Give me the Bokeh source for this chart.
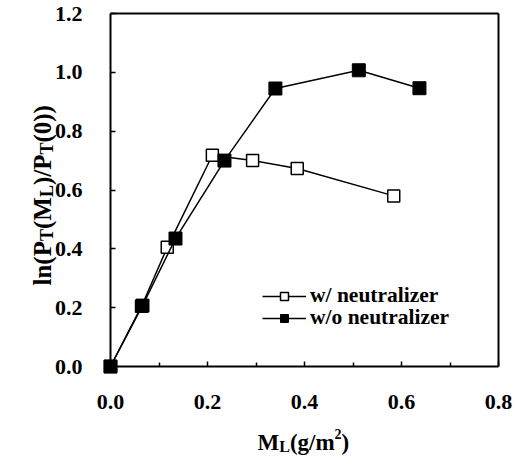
import math
from bokeh.plotting import figure
from bokeh.models import (Range1d, LinearAxis, FixedTicker, Label, Legend, LegendItem,
                          PrintfTickFormatter)
from bokeh.embed import file_html
from bokeh.resources import INLINE

# data
ml_with = [0.0, 0.064, 0.117, 0.210, 0.293, 0.385, 0.584]
ln_with = [0.0, 0.205, 0.405, 0.718, 0.700, 0.673, 0.580]
ml_without = [0.0, 0.066, 0.134, 0.235, 0.340, 0.512, 0.637]
ln_without = [0.0, 0.207, 0.435, 0.700, 0.945, 1.007, 0.946]

x_ticks = [0.0, 0.2, 0.4, 0.6, 0.8]
x_minor = [0.1, 0.3, 0.5, 0.7]
y_ticks = [0.0, 0.2, 0.4, 0.6, 0.8, 1.0, 1.2]
x_lim = (0.0, 0.8)
y_lim = (0.0, 1.2)
series_names = ["w/ neutralizer", "w/o neutralizer"]

FONT = "Liberation Serif"

# layout (canvas pixels): where the axis box sits inside the canvas
W_, H_ = 514, 457
BOX_L, BOX_R, BOX_T, BOX_B = 110, 498, 13, 366
kx = (BOX_R - BOX_L) / (x_lim[1] - x_lim[0])
ky = (BOX_B - BOX_T) / (y_lim[1] - y_lim[0])
xr = Range1d(x_lim[0] - BOX_L / kx, x_lim[1] + (W_ - BOX_R) / kx)
yr = Range1d(y_lim[0] - (H_ - BOX_B) / ky, y_lim[1] + BOX_T / ky)

def dx(px):  # canvas px -> data x
    return xr.start + px / kx

def dy(py):  # canvas px (from top) -> data y
    return yr.end - py / ky

p = figure(width=W_, height=H_, output_backend="svg", toolbar_location=None,
           x_range=xr, y_range=yr, x_axis_type=None, y_axis_type=None,
           min_border=0)
p.outline_line_color = None
p.grid.visible = False
p.background_fill_color = "white"
p.border_fill_color = "white"

xax = LinearAxis(ticker=FixedTicker(ticks=x_ticks, minor_ticks=x_minor),
                 fixed_location=y_lim[0], bounds=x_lim)
yax = LinearAxis(ticker=FixedTicker(ticks=y_ticks, minor_ticks=[]),
                 fixed_location=x_lim[0], bounds=y_lim)
for ax in (xax, yax):
    ax.axis_line_width = 2
    ax.axis_line_color = "black"
    ax.major_tick_out = 0
    ax.major_tick_in = 5
    ax.minor_tick_out = 0
    ax.minor_tick_in = 4
    ax.major_tick_line_width = 1.5
    ax.minor_tick_line_width = 1.5
    ax.major_label_text_font = FONT
    ax.major_label_text_font_style = "bold"
    ax.major_label_text_font_size = "22px"
    ax.major_label_text_color = "black"
    ax.formatter = PrintfTickFormatter(format="%.1f")
xax.major_label_standoff = 28
yax.major_label_standoff = 28
p.add_layout(xax, "below")
p.add_layout(yax, "left")

# frame lines on right and top
for side, loc, bnd in (("right", x_lim[1], y_lim), ("above", y_lim[1], x_lim)):
    a = LinearAxis(ticker=FixedTicker(ticks=[]), fixed_location=loc, bounds=bnd)
    a.axis_line_width = 2
    a.axis_line_color = "black"
    a.major_tick_out = 0
    a.major_tick_in = 0
    a.major_label_text_font_size = "0px"
    a.major_label_standoff = 0
    p.add_layout(a, side)

l1 = p.line(ml_with, ln_with, line_color="black", line_width=1.5)
s1 = p.scatter(ml_with, ln_with, marker="square", size=12, fill_color="white",
               line_color="black", line_width=1.5)
l2 = p.line(ml_without, ln_without, line_color="black", line_width=1.5)
s2 = p.scatter(ml_without, ln_without, marker="square", size=13, fill_color="black",
               line_color="black", line_width=1)

def make_legend(label, rends, loc):
    lg = Legend(items=[LegendItem(label=label, renderers=rends)], location=loc)
    lg.border_line_color = None
    lg.background_fill_alpha = 0
    lg.padding = 0
    lg.margin = 0
    lg.spacing = 0
    lg.glyph_width = 44
    lg.glyph_height = 20
    lg.label_height = 20
    lg.label_standoff = 4
    lg.label_text_font = FONT
    lg.label_text_font_style = "bold"
    lg.label_text_font_size = "21.5px"
    lg.label_text_color = "black"
    p.add_layout(lg, "center")

make_legend(series_names[0], [l1, s1], (262, 149))
make_legend(series_names[1], [l2, s2], (262, 127))

W = {"l": 278, "n": 556, "(": 333, ")": 333, "P": 611, "T": 667, "M": 944, "L": 667,
     "/": 278, "0": 500, "g": 500, "m": 833, "2": 500}

def em(s, size):
    return sum(W[c] for c in s) / 1000.0 * size

def lab(text, px, py, size, angle=0.0):
    p.add_layout(Label(x=dx(px), y=dy(py), text=text,
                       angle=angle, text_font=FONT, text_font_style="bold",
                       text_font_size=f"{size}px", text_color="black",
                       text_align="left", text_baseline="alphabetic"))

# x title M_L(g/m^2)
cx, base = 257, 442
for t, s, off in [("M", 23, 0), ("L", 16, 4), ("(g/m", 23, 0), ("2", 14, -9), (")", 23, 0)]:
    lab(t, cx, base + off, s)
    cx += em(t, s)

# y title ln(P_T(M_L)/P_T(0)) rotated
cy, bx = 285, 42
for t, s, off in [("ln(P", 25, 0), ("T", 18, 4), ("(M", 25, 0), ("L", 18, 4), (")/P", 25, 0),
                  ("T", 18, 4), ("(0))", 25, 0)]:
    lab(t, bx + off, cy, s, angle=math.pi / 2)
    cy -= em(t, s)

open("out.html", "w").write(file_html(p, INLINE))
